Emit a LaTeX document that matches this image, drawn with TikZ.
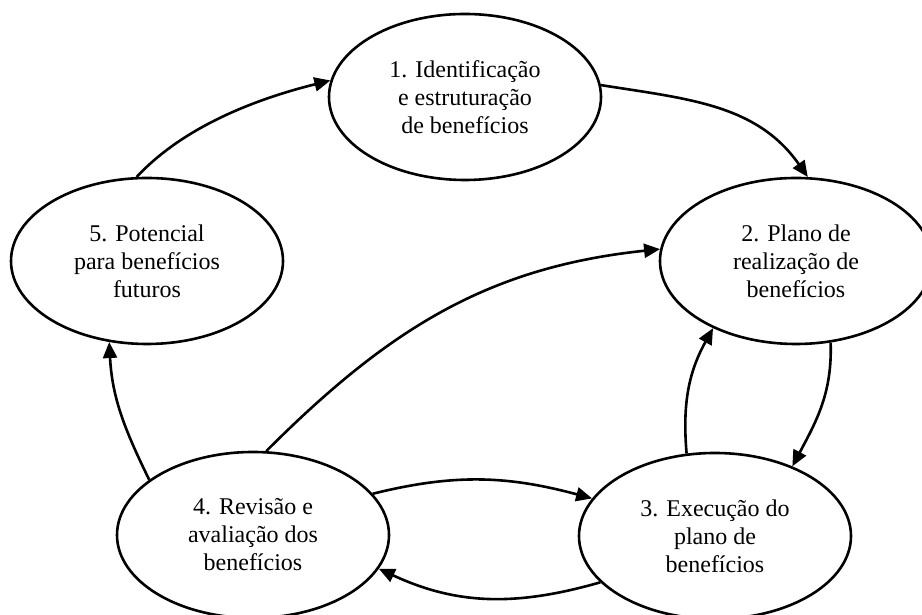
\documentclass[tikz,border=0pt]{standalone}
\usepackage{fontspec}
\setmainfont{Liberation Serif}
\usepackage{tikz}
\usetikzlibrary{arrows.meta, shapes.geometric}

\begin{document}
\begin{tikzpicture}[x=0.5pt, y=0.5pt,
    stage/.style={ellipse, draw=black, line width=1.3pt, minimum width=136pt, minimum height=83pt,
      inner sep=0pt, align=center, font=\fontsize{12}{14}\selectfont},
    flow/.style={-{Triangle[length=8pt, width=7pt]}, line width=1.3pt}]
    \useasboundingbox (0,0) rectangle (922,615);

    % Stages of the cycle
    \node[stage] (ident) at (465, 518) {1. Identificação\\e estruturação\\de benefícios};
    \node[stage] (plano) at (796, 354) {2. Plano de\\realização de\\benefícios};
    \node[stage] (exec)  at (715, 79)  {3. Execução do\\plano de\\benefícios};
    \node[stage] (rev)   at (253, 80)  {4. Revisão e\\avaliação dos\\benefícios};
    \node[stage] (pot)   at (147, 354) {5. Potencial\\para benefícios\\futuros};

    % Outer loop
    \draw[flow] (pot.97) to[out=47, in=194, looseness=0.85] (ident.173);
    \draw[flow] (ident.5) to[out=-9, in=125] (plano.82);
    \draw[flow] (plano.293) to[out=272, in=62] (exec.42);
    \draw[flow] (exec.202) to[out=196, in=335] (rev.345);
    \draw[flow] (rev.152) to[out=116, in=273] (pot.245);

    % Feedback arrows
    \draw[flow] (exec.109) to[out=95, in=241] (plano.219);
    \draw[flow] (rev.19) to[out=14, in=165] (exec.163);
    \draw[flow] (rev.81) to[out=45, in=186] (plano.175);
\end{tikzpicture}
\end{document}
